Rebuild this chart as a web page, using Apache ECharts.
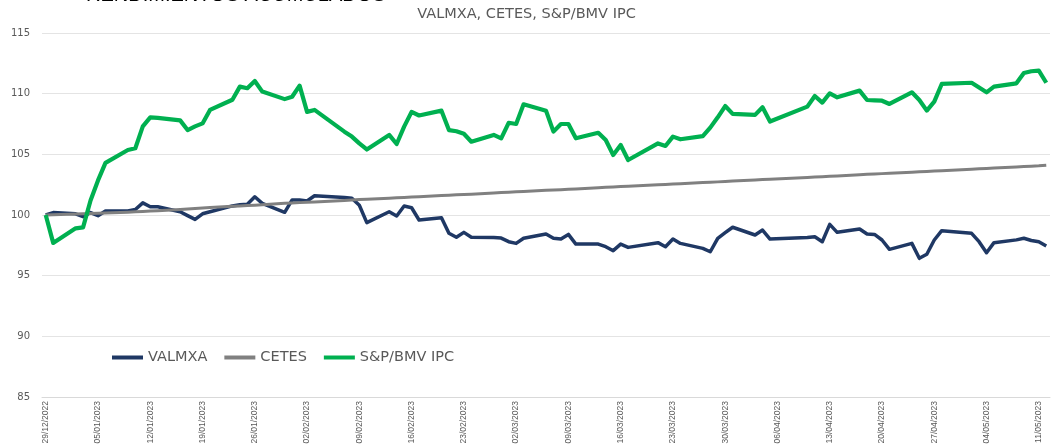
<!DOCTYPE html>
<html>
<head>
<meta charset="utf-8">
<title>Rendimientos acumulados</title>
<script src="https://cdn.jsdelivr.net/npm/echarts@6/dist/echarts.min.js"></script>
<style>
  html, body { margin: 0; padding: 0; background: #fff; }
  #chart { width: 1053px; height: 445px; }
</style>
</head>
<body>
<div id="chart"></div>
<script>
// dias habiles con dato
const dates = [
  '29/12/2022', '30/12/2022',
  '02/01/2023', '03/01/2023', '04/01/2023', '05/01/2023', '06/01/2023',
  '09/01/2023', '10/01/2023', '11/01/2023', '12/01/2023', '13/01/2023',
  '16/01/2023', '17/01/2023', '18/01/2023', '19/01/2023', '20/01/2023',
  '23/01/2023', '24/01/2023', '25/01/2023', '26/01/2023', '27/01/2023',
  '30/01/2023', '31/01/2023', '01/02/2023', '02/02/2023', '03/02/2023',
  '07/02/2023', '08/02/2023', '09/02/2023', '10/02/2023',
  '13/02/2023', '14/02/2023', '15/02/2023', '16/02/2023', '17/02/2023',
  '20/02/2023', '21/02/2023', '22/02/2023', '23/02/2023', '24/02/2023',
  '27/02/2023', '28/02/2023', '01/03/2023', '02/03/2023', '03/03/2023',
  '06/03/2023', '07/03/2023', '08/03/2023', '09/03/2023', '10/03/2023',
  '13/03/2023', '14/03/2023', '15/03/2023', '16/03/2023', '17/03/2023',
  '21/03/2023', '22/03/2023', '23/03/2023', '24/03/2023',
  '27/03/2023', '28/03/2023', '29/03/2023', '30/03/2023', '31/03/2023',
  '03/04/2023', '04/04/2023', '05/04/2023',
  '10/04/2023', '11/04/2023', '12/04/2023', '13/04/2023', '14/04/2023',
  '17/04/2023', '18/04/2023', '19/04/2023', '20/04/2023', '21/04/2023',
  '24/04/2023', '25/04/2023', '26/04/2023', '27/04/2023', '28/04/2023',
  '02/05/2023', '03/05/2023', '04/05/2023', '05/05/2023',
  '08/05/2023', '09/05/2023', '10/05/2023', '11/05/2023', '12/05/2023'
];

const valmxa = [
  100.00, 100.20,
  100.10, 99.86, 100.20, 99.94, 100.33,
  100.33, 100.45, 101.00, 100.68, 100.68,
  100.27, 99.95, 99.64, 100.10, 100.27,
  100.75, 100.85, 100.88, 101.50, 100.96,
  100.22, 101.24, 101.24, 101.15, 101.59,
  101.45, 101.38, 100.80, 99.37,
  100.27, 99.92, 100.74, 100.60, 99.59,
  99.78, 98.49, 98.16, 98.57, 98.16,
  98.15, 98.10, 97.80, 97.66, 98.08,
  98.43, 98.08, 98.02, 98.40, 97.60,
  97.60, 97.39, 97.06, 97.60, 97.33,
  97.72, 97.39, 98.02, 97.66,
  97.25, 96.97, 98.08, 98.54, 98.99,
  98.35, 98.76, 98.02,
  98.15, 98.21, 97.80, 99.23, 98.57,
  98.85, 98.43, 98.40, 97.94, 97.17,
  97.66, 96.43, 96.76, 97.94, 98.71,
  98.49, 97.80, 96.89, 97.72,
  97.95, 98.08, 97.90, 97.80, 97.45
];

const cetes = [
  100.00, 100.02,
  100.08, 100.10, 100.12, 100.14, 100.16,
  100.23, 100.26, 100.29, 100.32, 100.35,
  100.45, 100.49, 100.53, 100.57, 100.61,
  100.72, 100.75, 100.78, 100.81, 100.85,
  100.96, 100.99, 101.02, 101.05, 101.08,
  101.20, 101.23, 101.27, 101.30,
  101.39, 101.42, 101.45, 101.48, 101.51,
  101.60, 101.63, 101.66, 101.69, 101.72,
  101.82, 101.85, 101.88, 101.91, 101.94,
  102.03, 102.06, 102.09, 102.12, 102.15,
  102.24, 102.28, 102.31, 102.34, 102.37,
  102.49, 102.52, 102.55, 102.58,
  102.67, 102.70, 102.73, 102.77, 102.80,
  102.89, 102.92, 102.95,
  103.10, 103.13, 103.16, 103.19, 103.22,
  103.32, 103.35, 103.38, 103.41, 103.44,
  103.53, 103.56, 103.59, 103.62, 103.65,
  103.77, 103.81, 103.84, 103.87,
  103.96, 103.99, 104.02, 104.05, 104.10
];

const ipc = [
  100.00, 97.70,
  98.90, 98.98, 101.20, 102.85, 104.30,
  105.36, 105.50, 107.30, 108.05, 108.00,
  107.80, 107.00, 107.30, 107.55, 108.66,
  109.50, 110.58, 110.45, 111.05, 110.17,
  109.55, 109.75, 110.66, 108.50, 108.66,
  106.87, 106.46, 105.90, 105.40,
  106.60, 105.85, 107.28, 108.50, 108.20,
  108.60, 107.00, 106.90, 106.70, 106.04,
  106.60, 106.32, 107.60, 107.50, 109.12,
  108.60, 106.87, 107.50, 107.50, 106.32,
  106.78, 106.18, 104.95, 105.77, 104.53,
  105.90, 105.69, 106.46, 106.24,
  106.50, 107.20, 108.05, 108.98, 108.33,
  108.25, 108.88, 107.70,
  108.93, 109.81, 109.26, 110.03, 109.70,
  110.25, 109.48, 109.45, 109.42, 109.15,
  110.11, 109.48, 108.60, 109.34, 110.80,
  110.90, 110.50, 110.11, 110.58,
  110.85, 111.70, 111.85, 111.90, 110.90
];

const seriesNames = ['VALMXA', 'CETES', 'S&P/BMV IPC'];
const seriesColors = ['#1f3864', '#808080', '#00b050'];

// eje de fechas naturales (una banda por dia, como el eje de fechas de Excel)
function parseDate(s) {
  const p = s.split('/').map(Number);
  return Date.UTC(p[2], p[1] - 1, p[0]);
}
function pad(n) { return n < 10 ? '0' + n : '' + n; }
function formatDate(t) {
  const d = new Date(t);
  return pad(d.getUTCDate()) + '/' + pad(d.getUTCMonth() + 1) + '/' + d.getUTCFullYear();
}
const days = [];
for (let t = parseDate(dates[0]); t <= parseDate(dates[dates.length - 1]); t += 86400000) {
  days.push(formatDate(t));
}
function onCalendar(values) {
  const byDate = {};
  dates.forEach((d, i) => { byDate[d] = values[i]; });
  return days.map(d => (d in byDate ? byDate[d] : null));
}

const everyWeek = (i) => i % 7 === 0;

const chart = echarts.init(document.getElementById('chart'));
chart.setOption({
  animation: false,
  backgroundColor: '#fff',
  color: seriesColors,
  title: {
    text: 'VALMXA, CETES, S&P/BMV IPC',
    left: 'center',
    top: 7,
    padding: 0,
    textStyle: { color: '#595959', fontSize: 14.5, fontWeight: 'normal', fontFamily: 'DejaVu Sans' }
  },
  graphic: [{
    type: 'text',
    x: 86,
    y: 5,
    z: 10,
    style: {
      text: 'RENDIMIENTOS ACUMULADOS',
      font: '20px "Liberation Sans"',
      fill: '#000',
      verticalAlign: 'bottom'
    }
  }],
  legend: {
    data: seriesNames,
    left: 112,
    top: 350,
    padding: 0,
    icon: 'rect',
    itemWidth: 31,
    itemHeight: 4,
    itemGap: 17,
    textStyle: { color: '#595959', fontSize: 14.5, fontFamily: 'DejaVu Sans' }
  },
  grid: { left: 42, right: 3, top: 33, bottom: 48, outerBoundsMode: 'none' },
  xAxis: {
    type: 'category',
    data: days,
    boundaryGap: true,
    axisLine: { lineStyle: { color: '#d9d9d9' } },
    axisTick: { interval: everyWeek, length: 4, lineStyle: { color: '#bfbfbf' } },
    axisLabel: {
      interval: everyWeek,
      rotate: 90,
      margin: 4,
      fontSize: 8.5,
      color: '#595959',
      fontFamily: 'Liberation Sans'
    }
  },
  yAxis: {
    type: 'value',
    min: 85,
    max: 115,
    interval: 5,
    axisLine: { show: false },
    axisTick: { show: false },
    splitLine: { lineStyle: { color: '#e4e4e4' } },
    axisLabel: { color: '#595959', fontSize: 10, margin: 12, fontFamily: 'DejaVu Sans' }
  },
  series: [
    { name: seriesNames[0], data: onCalendar(valmxa), width: 3.5 },
    { name: seriesNames[1], data: onCalendar(cetes), width: 3 },
    { name: seriesNames[2], data: onCalendar(ipc), width: 4.2 }
  ].map((s, i) => ({
    name: s.name,
    type: 'line',
    data: s.data,
    connectNulls: true,
    symbol: 'none',
    itemStyle: { color: seriesColors[i] },
    lineStyle: { color: seriesColors[i], width: s.width, join: 'round' }
  }))
});
</script>
</body>
</html>
